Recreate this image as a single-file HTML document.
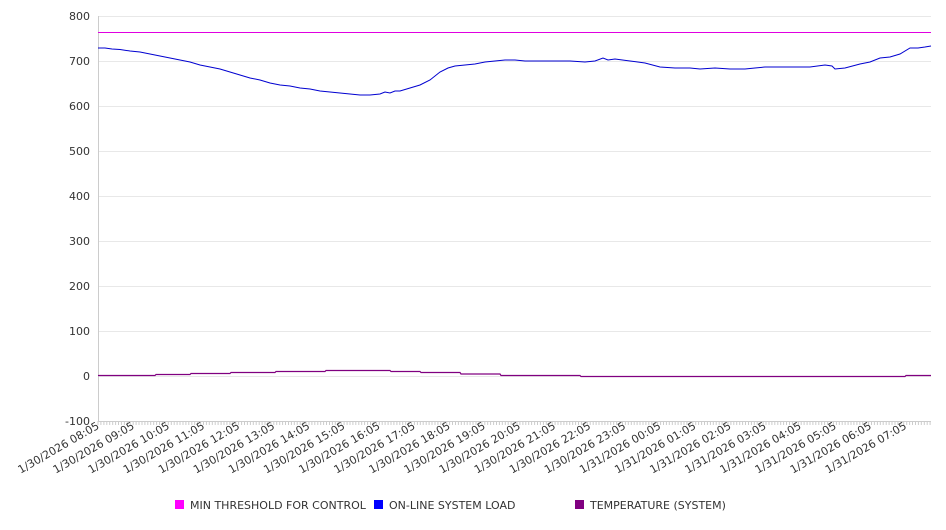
<!DOCTYPE html>
<html><head><style>
body{margin:0;background:#fff;width:946px;height:526px;overflow:hidden;font-family:"DejaVu Sans","Liberation Sans",sans-serif;}
</style></head><body>
<svg width="946" height="526" xmlns="http://www.w3.org/2000/svg" font-family="DejaVu Sans, Liberation Sans, sans-serif" font-size="11" fill="#333">
<g stroke="#e8e8e8" stroke-width="1">
<line x1="98" x2="931" y1="16.5" y2="16.5"/><line x1="98" x2="931" y1="61.5" y2="61.5"/>
<line x1="98" x2="931" y1="106.5" y2="106.5"/><line x1="98" x2="931" y1="151.5" y2="151.5"/>
<line x1="98" x2="931" y1="196.5" y2="196.5"/><line x1="98" x2="931" y1="241.5" y2="241.5"/>
<line x1="98" x2="931" y1="286.5" y2="286.5"/><line x1="98" x2="931" y1="331.5" y2="331.5"/>
<line x1="98" x2="931" y1="376.5" y2="376.5"/>
</g>
<line x1="98.5" x2="98.5" y1="16" y2="421" stroke="#ccc"/>
<line x1="98" x2="931" y1="421.5" y2="421.5" stroke="#ccc"/>
<g id="t" stroke="#ccc"></g>
<g text-anchor="end">
<text x="90" y="20">800</text><text x="90" y="65">700</text><text x="90" y="110">600</text>
<text x="90" y="155">500</text><text x="90" y="200">400</text><text x="90" y="245">300</text>
<text x="90" y="290">200</text><text x="90" y="335">100</text><text x="90" y="380">0</text>
<text x="90" y="425">-100</text>
</g>
<g id="xl" text-anchor="end"></g>
<line x1="98" x2="931" y1="32.5" y2="32.5" stroke="#e000e0" stroke-width="1"/>
<polyline fill="none" stroke="#0000d0" stroke-width="1" points="98,48 105,48 112,49 120,49.5 130,51 140,52 150,54 160,56 170,58 180,60 190,62 200,65 210,67 220,69 230,72 240,75 250,78 260,80 270,83 280,85 290,86 300,88 310,89 320,91 330,92 340,93 350,94 360,95 370,95 380,94 385,92 390,93 395,91 400,91 410,88 420,85 430,80 440,72 448,68 455,66 465,65 475,64 485,62 495,61 505,60 515,60 525,61 540,61 555,61 570,61 585,62 595,61 603,58 608,60 615,59 630,61 645,63 660,67 675,68 690,68 700,69 715,68 730,69 745,69 755,68 765,67 780,67 795,67 810,67 825,65 832,66 835,69 845,68 860,64 870,62 880,58 890,57 900,54 910,48 918,48 925,47 931,46"/>
<polyline fill="none" stroke="#800080" stroke-width="1.2" points="98,375.5 155,375.5 156,374.5 190,374.5 191,373.5 230,373.5 231,372.5 275,372.5 276,371.5 325,371.5 326,370.5 390,370.5 391,371.5 420,371.5 421,372.5 460,372.5 461,374 500,374 501,375.5 580,375.5 581,376.5 905,376.5 906,375.5 931,375.5"/>
<rect x="175" y="500" width="9" height="9" fill="#ff00ff"/>
<text x="190" y="509">MIN THRESHOLD FOR CONTROL</text>
<rect x="374" y="500" width="9" height="9" fill="#0000ff"/>
<text x="389" y="509">ON-LINE SYSTEM LOAD</text>
<rect x="575" y="500" width="9" height="9" fill="#800080"/>
<text x="590" y="509">TEMPERATURE (SYSTEM)</text>
</svg>
<script>
const ns="http://www.w3.org/2000/svg";
const t=document.getElementById('t');
for(let x=98;x<=931;x+=2.93){const l=document.createElementNS(ns,'line');l.setAttribute('x1',x.toFixed(1));l.setAttribute('x2',x.toFixed(1));l.setAttribute('y1',421);l.setAttribute('y2',425);t.appendChild(l);}
const xl=document.getElementById('xl');
for(let i=0;i<24;i++){const h=(8+i)%24;const d=(8+i)<24?'1/30/2026':'1/31/2026';const x=98+i*35.1;
const tx=document.createElementNS(ns,'text');tx.setAttribute('transform',`translate(${x+2},428) rotate(-30)`);
tx.textContent=`${d} ${String(h).padStart(2,'0')}:05`;xl.appendChild(tx);}
</script>
</body></html>
